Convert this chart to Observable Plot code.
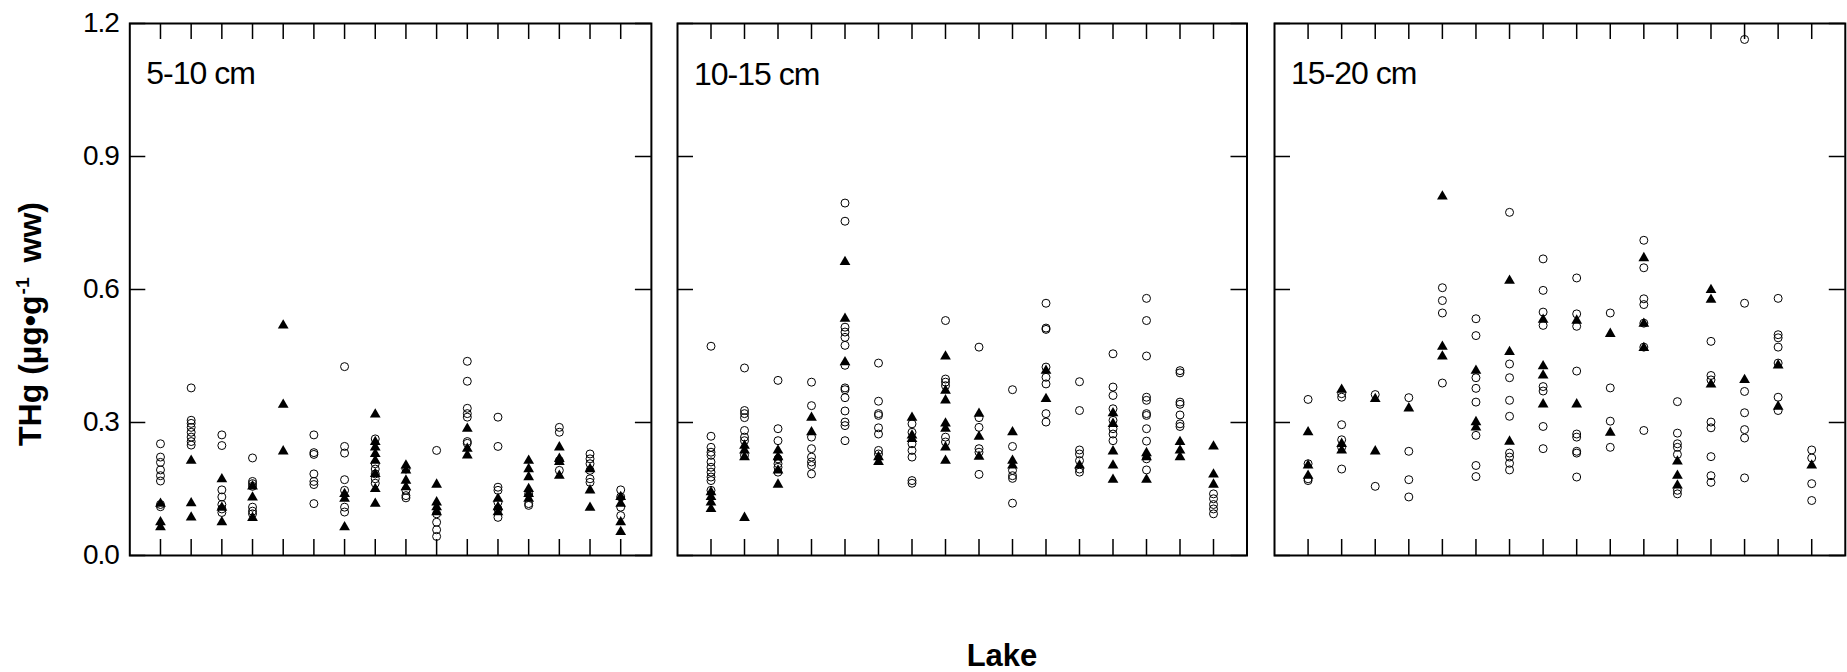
<!DOCTYPE html>
<html>
<head>
<meta charset="utf-8">
<script src="https://cdn.jsdelivr.net/npm/d3@7"></script>
<script src="https://cdn.jsdelivr.net/npm/@observablehq/plot@0.6"></script>
<style>
  body { margin: 0; background: #fff; }
  #chart { position: relative; width: 1847px; height: 672px; overflow: hidden; background: #fff;
           font-family: "Liberation Sans", Arial, sans-serif; color: #000; }
  #chart svg { position: absolute; top: 0; }
  #chart svg text { letter-spacing: -1px; }
  .ylab { position: absolute; left: -119.7px; top: 307.5px; width: 300px; height: 32px; line-height: 32px;
          font-weight: bold; font-size: 32px; text-align: center; white-space: nowrap;
          transform: rotate(-90deg); transform-origin: 50% 50%; }
  .ylab sup { font-size: 0.6em; line-height: 0; vertical-align: 0.62em; margin-left: 1px; margin-right: 6px; }
  .xlab { position: absolute; left: 902px; top: 639.7px; width: 200px; height: 31px; line-height: 31px;
          font-weight: bold; font-size: 31px; text-align: center; }
</style>
</head>
<body>
<div id="chart"></div>
<script>
// ---------- data ----------
const lakes = [1, 2, 3, 4, 5, 6, 7, 8, 9, 10, 11, 12, 13, 14, 15, 16];
const yTicks = [0, 0.3, 0.6, 0.9, 1.2];
const depthLabels = ["5-10 cm", "10-15 cm", "15-20 cm"];

// 5-10 cm: open circles and filled triangles, one list per lake
const open5to10 = [
  [0.252, 0.222, 0.21, 0.193, 0.18, 0.168, 0.115, 0.11],
  [0.378, 0.305, 0.298, 0.289, 0.278, 0.267, 0.257, 0.249],
  [0.272, 0.248, 0.148, 0.132, 0.115, 0.105, 0.097],
  [0.22, 0.167, 0.162, 0.156, 0.109, 0.1, 0.094],
  [],
  [0.272, 0.232, 0.228, 0.184, 0.167, 0.16, 0.117],
  [0.426, 0.246, 0.231, 0.171, 0.147, 0.109, 0.098],
  [0.263, 0.207, 0.195, 0.184, 0.173, 0.163],
  [0.195, 0.147, 0.135, 0.13],
  [0.237, 0.094, 0.075, 0.058, 0.043],
  [0.438, 0.393, 0.332, 0.32, 0.312, 0.257, 0.253],
  [0.312, 0.246, 0.154, 0.147, 0.12, 0.105, 0.086],
  [0.139, 0.117, 0.113],
  [0.289, 0.278, 0.214, 0.192],
  [0.229, 0.218, 0.207, 0.192, 0.173, 0.165],
  [0.148, 0.132, 0.109, 0.09]
];
const filled5to10 = [
  [0.117, 0.075, 0.064],
  [0.214, 0.118, 0.086],
  [0.172, 0.108, 0.075],
  [0.156, 0.131, 0.085],
  [0.519, 0.34, 0.235],
  [],
  [0.139, 0.128, 0.064],
  [0.318, 0.256, 0.244, 0.229, 0.214, 0.184, 0.15, 0.117],
  [0.203, 0.192, 0.169, 0.154],
  [0.16, 0.12, 0.109, 0.098],
  [0.286, 0.241, 0.226],
  [0.128, 0.109, 0.098],
  [0.214, 0.195, 0.177, 0.15, 0.139, 0.128],
  [0.244, 0.218, 0.211, 0.18],
  [0.195, 0.147, 0.108],
  [0.132, 0.117, 0.075, 0.053]
];

// 10-15 cm
const open10to15 = [
  [0.472, 0.269, 0.244, 0.233, 0.226, 0.211, 0.199, 0.188, 0.177, 0.169, 0.147],
  [0.423, 0.327, 0.32, 0.311, 0.282, 0.267, 0.259, 0.226],
  [0.395, 0.286, 0.259, 0.218, 0.207, 0.199, 0.188],
  [0.391, 0.338, 0.267, 0.241, 0.222, 0.211, 0.203, 0.184],
  [0.795, 0.754, 0.515, 0.504, 0.492, 0.474, 0.429, 0.378, 0.374, 0.356, 0.326, 0.301, 0.293, 0.259],
  [0.434, 0.348, 0.32, 0.316, 0.288, 0.274, 0.237, 0.229],
  [0.297, 0.278, 0.252, 0.237, 0.222, 0.169, 0.163],
  [0.53, 0.398, 0.391, 0.383, 0.267, 0.256],
  [0.47, 0.311, 0.289, 0.241, 0.233, 0.183],
  [0.374, 0.246, 0.192, 0.18, 0.174, 0.118],
  [0.569, 0.513, 0.51, 0.425, 0.402, 0.387, 0.32, 0.301],
  [0.392, 0.327, 0.238, 0.229, 0.214, 0.195, 0.188],
  [0.455, 0.38, 0.361, 0.331, 0.305, 0.286, 0.274, 0.259],
  [0.58, 0.53, 0.45, 0.357, 0.35, 0.32, 0.316, 0.286, 0.258, 0.218, 0.193],
  [0.417, 0.412, 0.346, 0.341, 0.317, 0.297, 0.291],
  [0.139, 0.128, 0.115, 0.105, 0.094]
];
const filled10to15 = [
  [0.143, 0.132, 0.12, 0.105],
  [0.248, 0.237, 0.222, 0.085],
  [0.237, 0.222, 0.192, 0.16],
  [0.311, 0.278],
  [0.662, 0.534, 0.436],
  [0.222, 0.211],
  [0.311, 0.271, 0.263],
  [0.449, 0.372, 0.35, 0.298, 0.286, 0.244, 0.214],
  [0.32, 0.268, 0.223],
  [0.278, 0.214, 0.203],
  [0.417, 0.353],
  [0.203],
  [0.321, 0.297, 0.235, 0.203, 0.171],
  [0.231, 0.222, 0.171],
  [0.256, 0.237, 0.222],
  [0.246, 0.183, 0.16]
];

// 15-20 cm
const open15to20 = [
  [0.352, 0.207, 0.173, 0.169],
  [0.365, 0.357, 0.295, 0.261, 0.244, 0.195],
  [0.363, 0.156],
  [0.356, 0.235, 0.171, 0.132],
  [0.604, 0.575, 0.547, 0.389],
  [0.534, 0.496, 0.401, 0.377, 0.346, 0.271, 0.203, 0.178],
  [0.774, 0.432, 0.401, 0.35, 0.314, 0.231, 0.222, 0.208, 0.193],
  [0.669, 0.598, 0.549, 0.519, 0.381, 0.371, 0.291, 0.241],
  [0.626, 0.545, 0.517, 0.416, 0.274, 0.267, 0.235, 0.231, 0.177],
  [0.547, 0.378, 0.303, 0.244],
  [0.711, 0.649, 0.579, 0.566, 0.524, 0.47, 0.282],
  [0.347, 0.276, 0.252, 0.244, 0.228, 0.147, 0.139],
  [0.483, 0.406, 0.396, 0.301, 0.288, 0.223, 0.18, 0.165],
  [1.164, 0.569, 0.37, 0.322, 0.284, 0.265, 0.175],
  [0.58, 0.498, 0.491, 0.47, 0.434, 0.357, 0.327],
  [0.238, 0.22, 0.162, 0.124]
];
const filled15to20 = [
  [0.278, 0.203, 0.18],
  [0.374, 0.252, 0.237],
  [0.353, 0.235],
  [0.332],
  [0.81, 0.471, 0.449],
  [0.417, 0.301, 0.289],
  [0.62, 0.459, 0.257],
  [0.532, 0.427, 0.406, 0.341],
  [0.53, 0.341],
  [0.5, 0.277],
  [0.671, 0.523, 0.468],
  [0.212, 0.18, 0.158],
  [0.599, 0.577, 0.386],
  [0.396],
  [0.429, 0.336],
  [0.203]
];

// ---------- layout ----------
const FONT = "'Liberation Sans', Arial, Helvetica, sans-serif";
const TOP = 23, INNER_H = 532, HEIGHT = 672, TICK = 16;
const panels = [
  { label: depthLabels[0], open: open5to10,  filled: filled5to10,  left: 0,      ml: 129.3, fw: 521.6, mr: 2, yLabels: true },
  { label: depthLabels[1], open: open10to15, filled: filled10to15, left: 667.3,  ml: 10,    fw: 569.5, mr: 2, yLabels: false },
  { label: depthLabels[2], open: open15to20, filled: filled15to20, left: 1264.2, ml: 10,    fw: 570.8, mr: 2, yLabels: false }
];

const flat = (series) => series.flatMap((vals, i) => vals.map(v => ({ lake: lakes[i], value: v })));

const chart = document.getElementById("chart");

for (const p of panels) {
  const marks = [
    Plot.tickX(lakes, { x: d => d, insetTop: INNER_H - TICK, stroke: "black", strokeWidth: 1.5 }),
    Plot.tickX(lakes, { x: d => d, insetBottom: INNER_H - TICK, stroke: "black", strokeWidth: 1.5 }),
    Plot.tickY(yTicks, { y: d => d, insetRight: p.fw - TICK, stroke: "black", strokeWidth: 1.5 }),
    Plot.tickY(yTicks, { y: d => d, insetLeft: p.fw - TICK, stroke: "black", strokeWidth: 1.5 }),
    Plot.dot(flat(p.open), { x: "lake", y: "value", r: 4, stroke: "black", fill: "none", strokeWidth: 1 }),
    Plot.dot(flat(p.filled), { x: "lake", y: "value", symbol: "triangle", r: 4, fill: "black", stroke: "none" }),
    Plot.frame({ stroke: "black", strokeWidth: 2 }),
    Plot.text([p.label], { frameAnchor: "top-left", dx: 16.5, dy: 61, lineAnchor: "bottom", textAnchor: "start",
                           fontSize: 32, fontFamily: FONT, fill: "black" })
  ];
  if (p.yLabels) {
    marks.push(Plot.axisY(yTicks, { anchor: "left", tickSize: 0, tickPadding: 11, tickFormat: d3.format(".1f"),
                                    fontSize: 28, fontFamily: FONT, fill: "black", label: null }));
  }
  const fig = Plot.plot({
    width: p.ml + p.fw + p.mr,
    height: HEIGHT,
    marginLeft: p.ml,
    marginRight: p.mr,
    marginTop: TOP,
    marginBottom: HEIGHT - TOP - INNER_H,
    x: { domain: [0, 17], axis: null },
    y: { domain: [0, 1.2], axis: null },
    style: { fontFamily: FONT, background: "transparent", overflow: "visible", color: "black" },
    marks
  });
  fig.style.left = p.left + "px";
  chart.appendChild(fig);
}

const ylab = document.createElement("div");
ylab.className = "ylab";
ylab.innerHTML = "THg (µg•g<sup>-1</sup> ww)";
chart.appendChild(ylab);

const xlab = document.createElement("div");
xlab.className = "xlab";
xlab.textContent = "Lake";
chart.appendChild(xlab);
</script>
</body>
</html>
